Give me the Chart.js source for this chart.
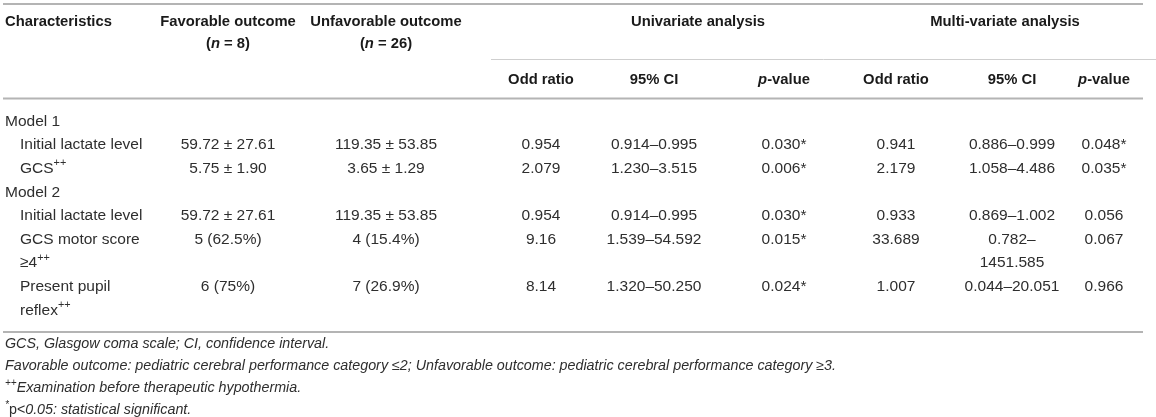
<!DOCTYPE html>
<html>
<head>
<meta charset="utf-8">
<script src="https://cdn.jsdelivr.net/npm/chart.js@4.4.1/dist/chart.umd.min.js"></script>
<style>
  html, body { margin: 0; padding: 0; background: #fff; }
  #wrap { width: 1156px; height: 417px; }
</style>
</head>
<body>
<div id="wrap"><canvas id="table"></canvas></div>
<script>
// ---- table content ----
// markup: "~" toggles italic, "^" toggles superscript, "|" breaks a line
const ROW_LABELS = ['Model 1', 'Initial lactate level', 'GCS^++^', 'Model 2', 'Initial lactate level', 'GCS motor score|≥4^++^', 'Present pupil|reflex^++^'];
const ROW_IS_GROUP = [true, false, false, true, false, false, false];
const FAVORABLE = ['', '59.72 ± 27.61', '5.75 ± 1.90', '', '59.72 ± 27.61', '5 (62.5%)', '6 (75%)'];
const UNFAVORABLE = ['', '119.35 ± 53.85', '3.65 ± 1.29', '', '119.35 ± 53.85', '4 (15.4%)', '7 (26.9%)'];
const UNI_OR = ['', '0.954', '2.079', '', '0.954', '9.16', '8.14'];
const UNI_CI = ['', '0.914–0.995', '1.230–3.515', '', '0.914–0.995', '1.539–54.592', '1.320–50.250'];
const UNI_P = ['', '0.030*', '0.006*', '', '0.030*', '0.015*', '0.024*'];
const MULTI_OR = ['', '0.941', '2.179', '', '0.933', '33.689', '1.007'];
const MULTI_CI = ['', '0.886–0.999', '1.058–4.486', '', '0.869–1.002', '0.782–|1451.585', '0.044–20.051'];
const MULTI_P = ['', '0.048*', '0.035*', '', '0.056', '0.067', '0.966'];

const HEADER_TOP = ['Favorable outcome|(~n~ = 8)', 'Unfavorable outcome|(~n~ = 26)'];
const HEADER_GROUPS = ['Univariate analysis', 'Multi-variate analysis'];
const HEADER_SUB = ['Odd ratio', '95% CI', '~p~-value', 'Odd ratio', '95% CI', '~p~-value'];
const FOOTNOTES = [
  'GCS, Glasgow coma scale; CI, confidence interval.',
  'Favorable outcome: pediatric cerebral performance category ≤2; Unfavorable outcome: pediatric cerebral performance category ≥3.',
  '^++^Examination before therapeutic hypothermia.',
  '^*^~p~<0.05: statistical significant.'
];

// ---- layout ----
const W = 1156, H = 417;
const FONT = '"Liberation Sans", Arial, Helvetica, sans-serif';
const COL_X = [228, 386, 541, 654, 784, 896, 1012, 1104];
const GROUP_X = [698, 1005];
const LABEL_X = 5, INDENT_X = 20;
const LINE_H = 23.6;
const HEAD_Y = 22, SUB_Y = 80, BODY_Y0 = 121.5, FOOT_Y0 = 344.5, FOOT_H = 22;

// y of the first text line of each body row
const rowY = [];
let lineIdx = 0;
ROW_LABELS.forEach((lbl, i) => {
  rowY.push(BODY_Y0 + lineIdx * LINE_H);
  const n = Math.max(...[lbl, MULTI_CI[i]].map(s => s.split('|').length));
  lineIdx += n;
});

const textSet = (texts, xs, ys, style) => ({
  type: 'scatter',
  data: texts.map((t, i) => ({ x: xs[i], y: ys[i] })),
  texts: texts,
  textStyle: style,
  pointRadius: 0,
  showLine: false,
});

const ruleSet = (x0, x1, y, color, width) => ({
  type: 'line',
  data: [{ x: x0, y: y }, { x: x1, y: y }],
  borderColor: color,
  borderWidth: width,
  pointRadius: 0,
  fill: false,
});

const bodyStyle = { size: 15.5, weight: 'normal', color: '#2e2e2e', align: 'center', lineH: LINE_H };
const headStyle = { size: 14.8, weight: 'bold', color: '#1a1a1a', align: 'center', lineH: 21.5 };

const columns = [FAVORABLE, UNFAVORABLE, UNI_OR, UNI_CI, UNI_P, MULTI_OR, MULTI_CI, MULTI_P];

const datasets = [
  ruleSet(3, 1143, 4, '#b4b4b4', 2),
  ruleSet(491, W, 59.5, '#cfcfcf', 1),
  ruleSet(3, 1143, 98.5, '#b4b4b4', 2),
  ruleSet(3, 1143, 332, '#b4b4b4', 2),
  textSet(['Characteristics'], [LABEL_X], [HEAD_Y], { ...headStyle, align: 'left' }),
  textSet(HEADER_TOP, COL_X.slice(0, 2), [HEAD_Y, HEAD_Y], headStyle),
  textSet(HEADER_GROUPS, GROUP_X, [HEAD_Y, HEAD_Y], headStyle),
  textSet(HEADER_SUB, COL_X.slice(2), HEADER_SUB.map(() => SUB_Y), headStyle),
  textSet(ROW_LABELS, ROW_IS_GROUP.map(g => g ? LABEL_X : INDENT_X), rowY, { ...bodyStyle, align: 'left' }),
  ...columns.map((col, c) => textSet(col, col.map(() => COL_X[c]), rowY, bodyStyle)),
  textSet(FOOTNOTES, FOOTNOTES.map(() => LABEL_X), FOOTNOTES.map((f, i) => FOOT_Y0 + i * FOOT_H),
    { size: 14.3, weight: 'normal', italic: true, color: '#2e2e2e', align: 'left', lineH: FOOT_H }),
];

// split "a~b~^c^" into runs
const parseRuns = (line, baseItalic) => {
  const runs = [];
  let italic = baseItalic, sup = false, buf = '';
  for (const ch of line) {
    if (ch === '~' || ch === '^') {
      if (buf) runs.push({ t: buf, italic, sup });
      buf = '';
      if (ch === '~') italic = !italic; else sup = !sup;
    } else buf += ch;
  }
  if (buf) runs.push({ t: buf, italic, sup });
  return runs;
};

const runFont = (run, st) =>
  `${run.italic ? 'italic ' : ''}${st.weight} ${run.sup ? st.size * 0.7 : st.size}px ${FONT}`;

const richTextPlugin = {
  id: 'richText',
  afterDatasetsDraw(chart) {
    const { ctx } = chart;
    const yScale = chart.scales.y;
    chart.data.datasets.forEach((ds, i) => {
      if (!ds.texts) return;
      const meta = chart.getDatasetMeta(i);
      const st = ds.textStyle;
      ctx.save();
      ctx.fillStyle = st.color;
      ctx.textBaseline = 'middle';
      ctx.textAlign = 'left';
      meta.data.forEach((pt, j) => {
        const lines = ds.texts[j].split('|');
        lines.forEach((line, k) => {
          const runs = parseRuns(line, !!st.italic);
          let width = 0;
          runs.forEach(r => { ctx.font = runFont(r, st); r.w = ctx.measureText(r.t).width; width += r.w; });
          let x = st.align === 'center' ? pt.x - width / 2 : pt.x;
          const y = yScale.getPixelForValue(ds.data[j].y + k * st.lineH);
          runs.forEach(r => {
            ctx.font = runFont(r, st);
            ctx.fillText(r.t, x, r.sup ? y - st.size * 0.36 : y);
            x += r.w;
          });
        });
      });
      ctx.restore();
    });
  }
};

new Chart(document.getElementById('table'), {
  type: 'scatter',
  data: { datasets },
  options: {
    responsive: true,
    maintainAspectRatio: false,
    animation: false,
    events: [],
    layout: { padding: 0 },
    plugins: { legend: { display: false }, tooltip: { enabled: false } },
    scales: {
      x: { type: 'linear', min: 0, max: W, display: false },
      y: { type: 'linear', min: 0, max: H, reverse: true, display: false },
    },
  },
  plugins: [richTextPlugin],
});
</script>
</body>
</html>
